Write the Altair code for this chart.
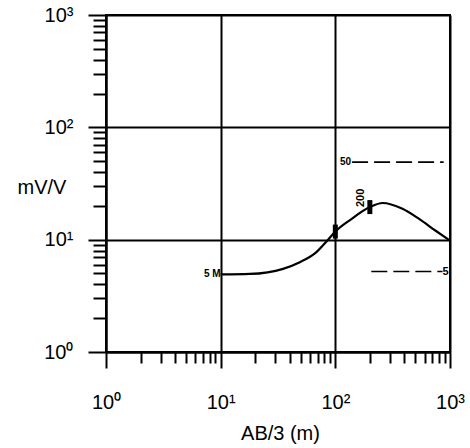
import altair as alt
import pandas as pd

# ---- data ----
curve_x = [10, 18, 35, 49, 68, 85, 100, 135, 200, 258, 385, 537, 750, 1000]
curve_y = [4.9, 4.95, 5.5, 6.3, 7.7, 9.8, 11.8, 15.0, 19.5, 21.2, 18.8, 15.3, 12.0, 9.8]

marker_x = [100, 200]
marker_y = [11.8, 19.5]

dash50_x = [140, 880]
dash50_y = [49, 49]
dash5_x = [206, 860]
dash5_y = [5.2, 5.2]

tick_vals = [1, 2, 3, 4, 5, 6, 7, 8, 9,
             10, 20, 30, 40, 50, 60, 70, 80, 90,
             100, 200, 300, 400, 500, 600, 700, 800, 900, 1000]

FONT = "Liberation Sans"
decade = "datum.value == 1 || datum.value == 10 || datum.value == 100 || datum.value == 1000"
label_expr = ("datum.value == 1 ? '10\u2070' : datum.value == 10 ? '10\u00b9' : "
              "datum.value == 100 ? '10\u00b2' : datum.value == 1000 ? '10\u00b3' : ''")

curve = pd.DataFrame({"x": curve_x, "y": curve_y})
markers = pd.DataFrame({"x": marker_x, "y": marker_y})
dashes = pd.DataFrame({
    "x": dash50_x + dash5_x,
    "y": dash50_y + dash5_y,
    "g": ["50", "50", "5", "5"],
})

xscale = alt.Scale(type="log", domain=[1, 1000], nice=False)
yscale = alt.Scale(type="log", domain=[1, 1000], nice=False)

xaxis = alt.Axis(
    values=tick_vals, labelExpr=label_expr, labelFont=FONT, labelFontSize=20,
    labelColor="black", labelBaseline="top", labelPadding=24,
    tickColor="black", tickWidth=2,
    tickSize={"condition": {"test": decade, "value": 16}, "value": 11},
    grid=True, gridColor="black", gridWidth=2,
    gridOpacity={"condition": {"test": decade, "value": 1}, "value": 0},
    domainColor="black", domainWidth=2,
    title="AB/3 (m)", titleFont=FONT, titleFontSize=20, titleFontWeight="normal",
    titleColor="black", titleX=174, titleY=81, titleAlign="center",
    titleBaseline="middle", labelFlush=False, labelOverlap=False,
)
yaxis = alt.Axis(
    values=tick_vals, labelExpr=label_expr, labelFont=FONT, labelFontSize=20,
    labelColor="black", labelBaseline="middle", labelPadding=15,
    tickColor="black", tickWidth=2,
    tickSize={"condition": {"test": decade, "value": 18}, "value": 13},
    grid=True, gridColor="black", gridWidth=2,
    gridOpacity={"condition": {"test": decade, "value": 1}, "value": 0},
    domainColor="black", domainWidth=2,
    title="mV/V", titleFont=FONT, titleFontSize=20, titleFontWeight="normal",
    titleColor="black", titleAngle=0, titleX=-89, titleY=172, titleAlign="left",
    titleBaseline="middle", labelFlush=False, labelOverlap=False,
)

X = alt.X("x:Q", scale=xscale, axis=xaxis)
Y = alt.Y("y:Q", scale=yscale, axis=yaxis)

line = alt.Chart(curve).mark_line(
    interpolate="monotone", color="black", strokeWidth=2.2
).encode(x=X, y=Y)

ticks = alt.Chart(markers).mark_tick(
    orient="vertical", color="black", size=14, thickness=5, opacity=1
).encode(x=alt.X("x:Q", scale=xscale), y=alt.Y("y:Q", scale=yscale))

dash_lines = alt.Chart(dashes).mark_line(
    color="black", strokeWidth=1.6, strokeDash=[16, 6]
).encode(x=alt.X("x:Q", scale=xscale), y=alt.Y("y:Q", scale=yscale), detail="g:N")

lab50 = alt.Chart(pd.DataFrame({"x": [dash50_x[0]], "y": [dash50_y[0]], "t": ["50"]})).mark_text(
    align="right", baseline="middle", dx=-1, font=FONT, fontSize=10, fontWeight="bold", color="black"
).encode(x=alt.X("x:Q", scale=xscale), y=alt.Y("y:Q", scale=yscale), text="t:N")

lab5 = alt.Chart(pd.DataFrame({"x": [dash5_x[1]], "y": [dash5_y[1]], "t": ["5"]})).mark_text(
    align="left", baseline="middle", dx=0, font=FONT, fontSize=11, fontWeight="bold", color="black"
).encode(x=alt.X("x:Q", scale=xscale), y=alt.Y("y:Q", scale=yscale), text="t:N")

lab5m = alt.Chart(pd.DataFrame({"x": [curve_x[0]], "y": [curve_y[0]], "t": ["5 M"]})).mark_text(
    align="right", baseline="middle", dx=0, font=FONT, fontSize=10, fontWeight="bold", color="black"
).encode(x=alt.X("x:Q", scale=xscale), y=alt.Y("y:Q", scale=yscale), text="t:N")

lab200 = alt.Chart(pd.DataFrame({"x": [marker_x[1]], "y": [marker_y[1]], "t": ["200"]})).mark_text(
    align="left", baseline="middle", angle=270, dy=-9, font=FONT, fontSize=11,
    fontWeight="bold", color="black"
).encode(x=alt.X("x:Q", scale=xscale), y=alt.Y("y:Q", scale=yscale), text="t:N")

chart = alt.layer(line, dash_lines, ticks, lab50, lab5, lab5m, lab200).properties(
    width=344, height=337,
    autosize=alt.AutoSizeParams(type="none"),
    padding={"left": 106, "top": 15, "right": 20, "bottom": 96},
    background="white",
).configure_view(stroke="black", strokeWidth=2)

chart.save("out.html", embed_options={"renderer": "svg", "actions": False})
